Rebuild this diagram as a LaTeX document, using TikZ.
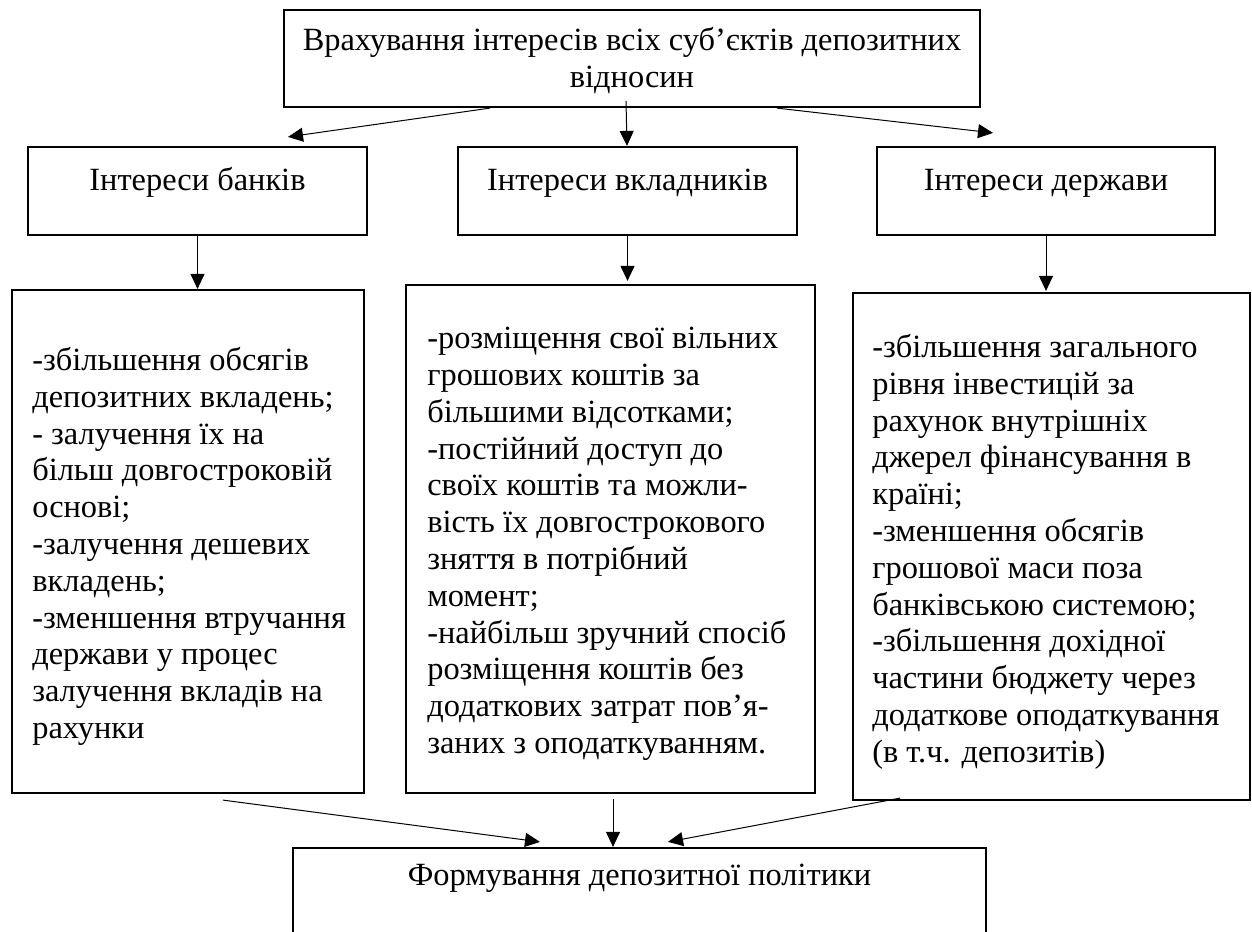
\documentclass[tikz,border=0pt]{standalone}
\usepackage{fontspec}
\setmainfont{Liberation Serif}
\usetikzlibrary{arrows.meta,calc}
\begin{document}
\begin{tikzpicture}[x=0.5pt,y=-0.5pt,
  box/.style={draw,line width=1.1pt,inner sep=0pt,rectangle},
  sz/.style 2 args={minimum width=#1*0.5pt,minimum height=#2*0.5pt},
  lbl/.style={inner sep=0pt,font=\fontsize{16.2}{18.4}\selectfont},
  conn/.style={line width=0.5pt,-{Triangle[length=7.5pt,width=7pt]}}]
\useasboundingbox (0,0) rectangle (1252,931);
\clip (0,0) rectangle (1252,931);
% boxes
\node[box,sz={696}{97}] (top) at (632,58.5) {};
\node[box,sz={339}{88}] (m1) at (197.5,191) {};
\node[box,sz={339}{88}] (m2) at (627.5,191) {};
\node[box,sz={338}{88}] (m3) at (1046,191) {};
\node[box,sz={352}{503}] (b1) at (188,541.5) {};
\node[box,sz={409}{508}] (b2) at (610.5,539) {};
\node[box,sz={397}{507}] (b3) at (1051.5,546.5) {};
\node[box,sz={693}{112}] (bot) at (639.5,904) {};
% texts
\node[lbl,align=center,anchor=north] (topt) at ($(top.north)+(0,18)$)
  {Врахування інтересів всіх суб’єктів депозитних\\відносин};
\node[lbl,anchor=base] (m1t) at (m1.center) {Інтереси банків};
\node[lbl,anchor=base] (m2t) at (m2.center) {Інтереси вкладників};
\node[lbl,anchor=base] (m3t) at (m3.center) {Інтереси держави};
\node[lbl,align=left,anchor=north west] (b1t) at ($(b1.north west)+(21,58)$)
  {-збільшення обсягів\\депозитних вкладень;\\- залучення їх на\\більш довгостроковій\\основі;\\-залучення дешевих\\вкладень;\\-зменшення втручання\\держави у процес\\залучення вкладів на\\рахунки};
\node[lbl,align=left,anchor=north west] (b2t) at ($(b2.north west)+(22,43)$)
  {-розміщення свої вільних\\грошових коштів за\\більшими відсотками;\\-постійний доступ до\\своїх коштів та можли-\\вість їх довгострокового\\зняття в потрібний\\момент;\\-найбільш зручний спосіб\\розміщення коштів без\\додаткових затрат пов’я-\\заних з оподаткуванням.};
\node[lbl,align=left,anchor=north west] (b3t) at ($(b3.north west)+(20,42)$)
  {-збільшення загального\\рівня інвестицій за\\рахунок внутрішніх\\джерел фінансування в\\країні;\\-зменшення обсягів\\грошової маси поза\\банківською системою;\\-збільшення дохідної\\частини бюджету через\\додаткове оподаткування\\(в т.ч. депозитів)};
\node[lbl,anchor=base] (bott) at ($(bot.north)+(0,39)$) {Формування депозитної політики};
% connectors
\draw[conn] ($(top.south)+(-142,0)$) -- ($(m1.north)+(90.5,-9)$);
\draw[conn] ($(top.south)+(-6,-7)$) -- ($(m2.north)+(-0.5,0)$);
\draw[conn] ($(top.south)+(145,0)$) -- ($(m3.north)+(-53,-13)$);
\draw[conn] (m1.south) -- (m1.south |- b1.north);
\draw[conn] (m2.south) -- ($(m2.south |- b2.north)+(0,-3)$);
\draw[conn] (m3.south) -- ($(m3.south |- b3.north)+(0,-1)$);
\draw[conn] ($(b1.south)+(35,6)$) -- ($(bot.north)+(-99.5,-5)$);
\draw[conn] ($(b2.south)+(2.5,5)$) -- ($(bot.north)+(-26.5,0)$);
\draw[conn] ($(b3.south)+(-151.5,-3)$) -- ($(bot.north)+(28.5,-5)$);
\end{tikzpicture}
\end{document}
